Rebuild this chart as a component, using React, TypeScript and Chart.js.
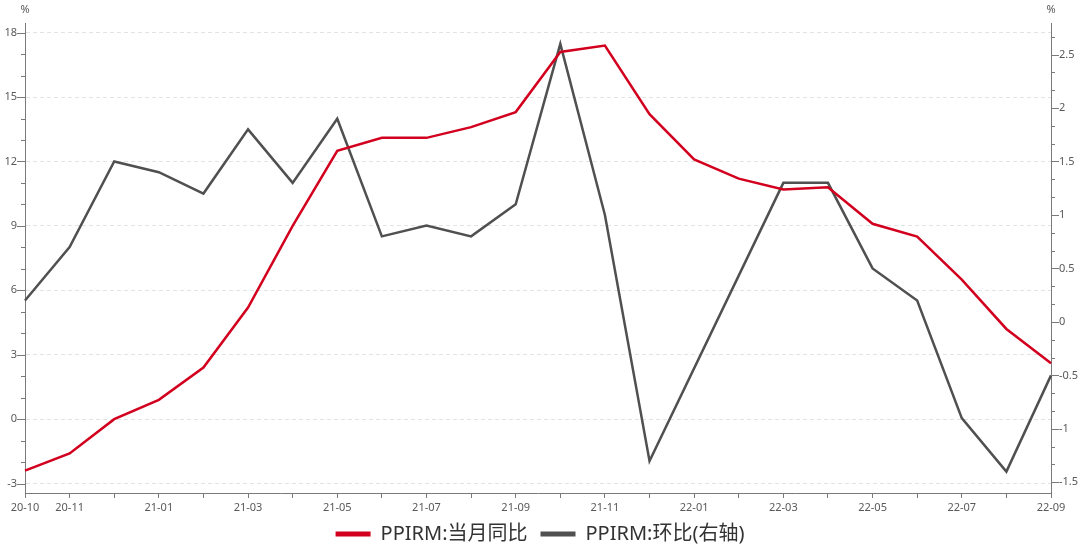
import React, { useEffect, useRef } from "react";
import { Chart, registerables } from "chart.js";

Chart.register(...registerables);

const months = [
  "20-10", "20-11", "20-12", "21-01", "21-02", "21-03", "21-04", "21-05",
  "21-06", "21-07", "21-08", "21-09", "21-10", "21-11", "21-12", "22-01",
  "22-02", "22-03", "22-04", "22-05", "22-06", "22-07", "22-08", "22-09",
];
const yoyValues = [
  -2.4, -1.6, 0.0, 0.9, 2.4, 5.2, 9.0, 12.5, 13.1, 13.1, 13.6, 14.3,
  17.1, 17.4, 14.2, 12.1, 11.2, 10.7, 10.8, 9.1, 8.5, 6.5, 4.2, 2.6,
];
const momValues: (number | null)[] = [
  0.2, 0.7, 1.5, 1.4, 1.2, 1.8, 1.3, 1.9, 0.8, 0.9, 0.8, 1.1,
  2.6, 1.0, -1.3, null, null, 1.3, 1.3, 0.5, 0.2, -0.9, -1.4, -0.5,
];
const leftTicks = [-3, 0, 3, 6, 9, 12, 15, 18];
const rightTicks = [-1.5, -1, -0.5, 0, 0.5, 1, 1.5, 2, 2.5];
const seriesNames = ["PPIRM:当月同比", "PPIRM:环比(右轴)"];

const FONT = '"Noto Sans", "Noto Sans CJK SC", sans-serif';
const AXIS_COLOR = "#7a7a7a";
const TEXT_COLOR = "#595959";

const minorTicksPlugin = {
  id: "minorTicks",
  afterDraw(chart: any) {
    const ctx = chart.ctx;
    const yL = chart.scales.y;
    const yR = chart.scales.y1;
    const area = chart.chartArea;
    ctx.save();
    ctx.strokeStyle = AXIS_COLOR;
    ctx.lineWidth = 1;
    for (let v = Math.ceil(yL.min); v <= Math.floor(yL.max); v++) {
      const y = Math.round(yL.getPixelForValue(v)) + 0.5;
      const len = v % 3 === 0 ? 8 : 4;
      ctx.beginPath();
      ctx.moveTo(area.left - len, y);
      ctx.lineTo(area.left, y);
      ctx.stroke();
    }
    for (let k = Math.ceil(yR.min * 6); k <= Math.floor(yR.max * 6); k++) {
      const y = Math.round(yR.getPixelForValue(k / 6)) + 0.5;
      const len = k % 3 === 0 ? 8 : 4;
      ctx.beginPath();
      ctx.moveTo(area.right, y);
      ctx.lineTo(area.right + len, y);
      ctx.stroke();
    }
    ctx.fillStyle = TEXT_COLOR;
    ctx.font = "11px " + FONT;
    ctx.textAlign = "center";
    ctx.textBaseline = "middle";
    ctx.fillText("%", area.left, 10);
    ctx.fillText("%", area.right, 10);
    ctx.restore();
  },
};

export default function App() {
  const canvasRef = useRef<HTMLCanvasElement | null>(null);

  useEffect(() => {
    document.body.style.margin = "0";
    const canvas = canvasRef.current;
    if (!canvas) return;
    const chart = new Chart(canvas, {
      type: "line",
      data: {
        labels: months,
        datasets: [
          {
            label: seriesNames[0],
            data: yoyValues,
            borderColor: "#d2001e",
            backgroundColor: "#d2001e",
            borderWidth: 2.5,
            pointRadius: 0,
            tension: 0,
            yAxisID: "y",
          },
          {
            label: seriesNames[1],
            data: momValues,
            borderColor: "#505050",
            backgroundColor: "#505050",
            borderWidth: 2.5,
            pointRadius: 0,
            tension: 0,
            spanGaps: true,
            yAxisID: "y1",
          },
        ],
      },
      options: {
        responsive: true,
        maintainAspectRatio: false,
        animation: false,
        layout: { padding: { top: 23, left: 0, right: 0, bottom: 0 } },
        font: { family: FONT },
        plugins: {
          tooltip: { enabled: false },
          legend: {
            position: "bottom",
            maxHeight: 33,
            labels: {
              boxWidth: 35,
              boxHeight: 5,
              padding: 13,
              color: "#333333",
              font: { size: 20, family: FONT },
              generateLabels: (c: any) =>
                Chart.defaults.plugins.legend.labels
                  .generateLabels(c)
                  .map((l: any) => ({ ...l, lineWidth: 0 })),
            },
          },
        },
        scales: {
          x: {
            offset: false,
            afterFit: (s: any) => {
              s.height = 18;
            },
            grid: {
              drawOnChartArea: false,
              drawTicks: true,
              tickLength: 5,
              tickColor: AXIS_COLOR,
            },
            border: { display: true, color: AXIS_COLOR },
            ticks: {
              autoSkip: false,
              maxRotation: 0,
              minRotation: 0,
              padding: 3,
              color: TEXT_COLOR,
              font: { size: 11, family: FONT },
              callback: (_v: any, i: number) => {
                const m = parseInt(months[i].slice(3), 10);
                return i === 0 || m % 2 === 1 ? months[i] : "";
              },
            },
          },
          y: {
            position: "left",
            min: -3.44,
            max: 18.45,
            afterFit: (s: any) => {
              s.width = 25;
            },
            afterBuildTicks: (s: any) => {
              s.ticks = leftTicks.map((v) => ({ value: v }));
            },
            grid: {
              drawTicks: false,
              color: "#e3e3e3",
              lineWidth: 1,
            },
            border: { display: true, color: AXIS_COLOR, dash: [4, 3] },
            ticks: {
              padding: 8,
              color: TEXT_COLOR,
              font: { size: 11, family: FONT },
              callback: (v: any) => String(v),
            },
          },
          y1: {
            position: "right",
            min: -1.6,
            max: 2.795,
            afterFit: (s: any) => {
              s.width = 29;
            },
            afterBuildTicks: (s: any) => {
              s.ticks = rightTicks.map((v) => ({ value: v }));
            },
            grid: { drawOnChartArea: false, drawTicks: false },
            border: { display: true, color: AXIS_COLOR },
            ticks: {
              padding: 8,
              color: TEXT_COLOR,
              font: { size: 11, family: FONT },
              callback: (v: any) => String(v),
            },
          },
        },
      },
      plugins: [minorTicksPlugin],
    });
    return () => chart.destroy();
  }, []);

  return (
    <div style={{ width: 1080, height: 544, position: "relative" }}>
      <canvas ref={canvasRef} />
    </div>
  );
}
